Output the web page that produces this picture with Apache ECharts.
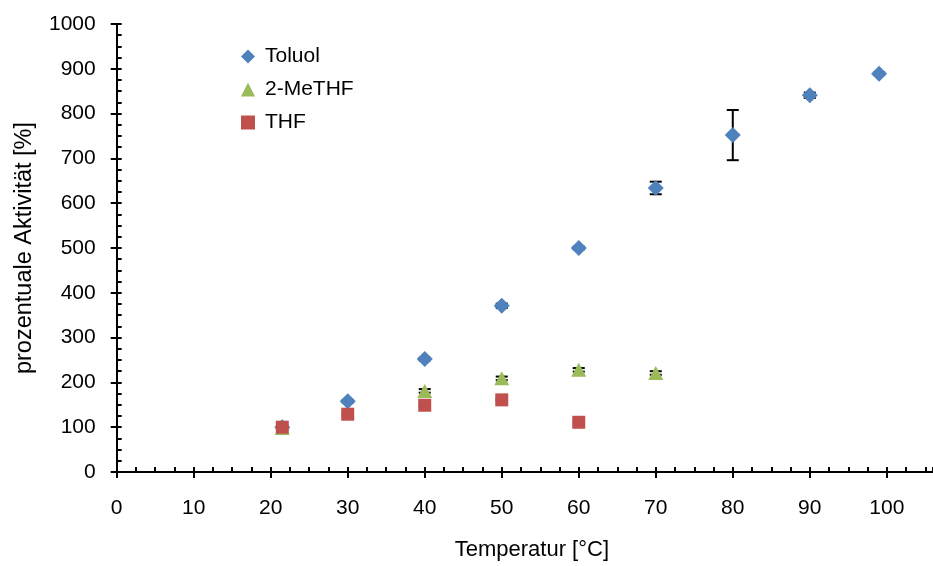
<!DOCTYPE html>
<html>
<head>
<meta charset="utf-8">
<script src="https://cdn.jsdelivr.net/npm/echarts@6/dist/echarts.min.js"></script>
<style>
html,body{margin:0;padding:0;background:#fff;}
#chart{width:933px;height:566px;}
</style>
</head>
<body>
<div id="chart"></div>
<script>
// ---- data ----
const seriesNames = ['Toluol', '2-MeTHF', 'THF'];
const toluolX = [21.5, 30, 40, 50, 60, 70, 80, 90, 99];
const toluolY = [100, 158, 252, 371, 500, 634, 752, 841, 889];
const toluolErr = [3, 3, 3, 5, 3, 14, 56, 6, 3];
const meTHFX = [21.5, 40, 50, 60, 70];
const meTHFY = [98, 181, 209, 228, 221];
const meTHFErr = [3, 4, 4, 4, 4];
const thfX = [21.5, 30, 40, 50, 60];
const thfY = [100, 129, 149, 161, 111];
const thfErr = [2, 2, 2, 2, 2];
const xTicks = [0, 10, 20, 30, 40, 50, 60, 70, 80, 90, 100];
const yTicks = [0, 100, 200, 300, 400, 500, 600, 700, 800, 900, 1000];

const colors = ['#4F81BD', '#9BBB59', '#C0504D'];
const FONT = '"Liberation Sans", Arial, sans-serif';

function pts(xs, ys) { return xs.map((x, i) => [x, ys[i]]); }
function errData(xs, ys, es) { return xs.map((x, i) => [x, ys[i] - es[i], ys[i] + es[i]]); }

function errorSeries(data) {
  return {
    type: 'custom',
    xAxisIndex: 0, yAxisIndex: 0,
    z: 1,
    silent: true,
    data: data,
    renderItem: function (params, api) {
      const x = api.value(0);
      const lo = api.coord([x, api.value(1)]);
      const hi = api.coord([x, api.value(2)]);
      const hw = 6;
      const st = { stroke: '#000', lineWidth: 2 };
      return {
        type: 'group',
        children: [
          { type: 'line', shape: { x1: lo[0], y1: lo[1], x2: hi[0], y2: hi[1] }, style: st },
          { type: 'line', shape: { x1: lo[0] - hw, y1: lo[1], x2: lo[0] + hw, y2: lo[1] }, style: st },
          { type: 'line', shape: { x1: hi[0] - hw, y1: hi[1], x2: hi[0] + hw, y2: hi[1] }, style: st }
        ]
      };
    }
  };
}

const chart = echarts.init(document.getElementById('chart'), null, { renderer: 'canvas' });
const lineStyle = { color: '#000', width: 2 };
const option = {
  animation: false,
  textStyle: { fontFamily: FONT },
  grid: { left: 116.7, right: 0, top: 24, bottom: 92.7, containLabel: false },
  legend: {
    orient: 'vertical',
    left: 236, top: 41,
    itemWidth: 14, itemHeight: 14, itemGap: 12,
    textStyle: { fontSize: 21, color: '#000', fontFamily: FONT, padding: [0, 0, 0, 5] },
    data: seriesNames
  },
  xAxis: [
    {
      type: 'value', min: 0, max: 106, interval: 10, position: 'bottom',
      axisLine: { show: true, onZero: false, lineStyle: lineStyle },
      axisTick: { show: true, inside: false, length: 6, lineStyle: lineStyle },
      axisLabel: { show: true, fontSize: 21, color: '#000', margin: 26, showMaxLabel: false,
        formatter: v => xTicks.indexOf(v) >= 0 ? String(v) : '' },
      splitLine: { show: false },
      name: 'Temperatur [°C]', nameLocation: 'middle', nameGap: 67,
      nameTextStyle: { fontSize: 22, color: '#000', fontFamily: FONT, padding: [0, 0, 0, 14] }
    },
    {
      type: 'value', min: 0, max: 106, interval: 2.5, position: 'bottom',
      axisLine: { show: false, onZero: false },
      axisTick: { show: true, inside: true, length: 5, lineStyle: lineStyle },
      axisLabel: { show: false },
      splitLine: { show: false }
    }
  ],
  yAxis: [
    {
      type: 'value', min: 0, max: 1000, interval: 100, position: 'left',
      axisLine: { show: true, onZero: false, lineStyle: lineStyle },
      axisTick: { show: true, inside: false, length: 6, lineStyle: lineStyle },
      axisLabel: { show: true, fontSize: 21, color: '#000', margin: 21,
        formatter: v => yTicks.indexOf(v) >= 0 ? String(v) : '' },
      splitLine: { show: false },
      name: 'prozentuale Aktivität [%]', nameLocation: 'middle', nameGap: 80, nameRotate: 90,
      nameTextStyle: { fontSize: 23.5, color: '#000', fontFamily: FONT }
    },
    {
      type: 'value', min: 0, max: 1000, interval: 25, position: 'left',
      axisLine: { show: false, onZero: false },
      axisTick: { show: true, inside: true, length: 5, lineStyle: lineStyle },
      axisLabel: { show: false },
      splitLine: { show: false }
    }
  ],
  series: [
    errorSeries(errData(toluolX, toluolY, toluolErr)),
    errorSeries(errData(meTHFX, meTHFY, meTHFErr)),
    errorSeries(errData(thfX, thfY, thfErr)),
    {
      name: seriesNames[0], type: 'scatter', xAxisIndex: 0, yAxisIndex: 0, z: 3,
      symbol: 'diamond', symbolSize: [16, 16], itemStyle: { color: colors[0], opacity: 1 },
      data: pts(toluolX, toluolY)
    },
    {
      name: seriesNames[1], type: 'scatter', xAxisIndex: 0, yAxisIndex: 0, z: 4,
      symbol: 'triangle', symbolSize: [15, 14], itemStyle: { color: colors[1], opacity: 1 },
      data: pts(meTHFX, meTHFY)
    },
    {
      name: seriesNames[2], type: 'scatter', xAxisIndex: 0, yAxisIndex: 0, z: 5,
      symbol: 'rect', symbolSize: [13, 13], itemStyle: { color: colors[2], opacity: 1 },
      data: pts(thfX, thfY)
    }
  ]
};
chart.setOption(option);
</script>
</body>
</html>
